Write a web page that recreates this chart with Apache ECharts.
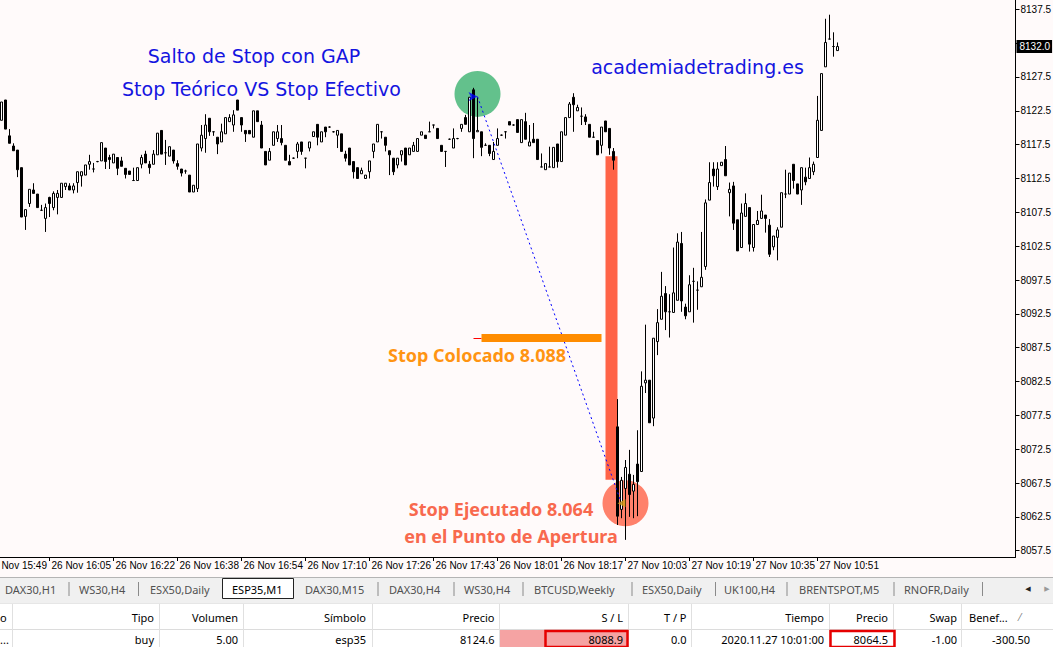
<!DOCTYPE html>
<html>
<head>
<meta charset="utf-8">
<script src="https://cdn.jsdelivr.net/npm/echarts@6.0.0/dist/echarts.min.js"></script>
<style>
html,body{margin:0;padding:0;background:#fffafa;overflow:hidden}
#chart{width:1053px;height:647px}
</style>
</head>
<body>
<div id="chart"></div>
<script>
// ESP35 M1 candles: [open, close, low, high]
const ohlc = [
[8121.1,8123.8,8121.1,8123.8],[8124.1,8119.8,8119.8,8124.1],[8118.8,8117.7,8117.7,8119.8],[8117.3,8116.6,8116.6,8117.7],
[8116.7,8113.8,8112.7,8116.7],[8114.1,8106.8,8106.8,8114.1],[8106.9,8107.9,8104.9,8107.9],[8108.8,8110.9,8108.3,8110.9],
[8110.8,8110.3,8110.3,8111.8],[8110.2,8108.2,8108.2,8110.2],[8107.8,8107.8,8107.7,8108.6],[8106.6,8108.2,8104.6,8108.8],
[8109.7,8108.8,8106.8,8109.8],[8108.2,8110.3,8107.8,8110.6],[8109.7,8110.3,8107.2,8110.8],[8109.7,8111.8,8109.7,8111.8],
[8111.3,8111.8,8110.8,8111.8],[8111.4,8110.8,8110.8,8111.8],[8110.8,8111.4,8110.3,8111.8],[8111.9,8113.5,8110.4,8113.5],
[8112.9,8113.5,8111.3,8113.5],[8113.0,8114.5,8113.0,8114.5],[8114.6,8115.0,8113.8,8116.0],[8113.9,8113.9,8113.4,8114.8],
[8115.0,8115.0,8114.9,8115.1],[8115.1,8117.8,8115.1,8117.8],[8117.0,8115.0,8113.9,8117.0],[8115.6,8115.3,8113.9,8116.0],
[8114.8,8116.1,8114.8,8116.1],[8115.6,8114.0,8113.0,8115.6],[8115.1,8114.3,8114.3,8115.7],[8114.0,8113.1,8112.5,8114.0],
[8113.6,8113.1,8113.1,8113.6],[8112.2,8112.2,8112.2,8114.1],[8112.2,8114.1,8112.2,8114.1],[8114.6,8115.6,8114.0,8116.0],
[8116.1,8114.8,8114.8,8116.6],[8114.6,8114.1,8113.2,8115.1],[8114.6,8116.1,8114.6,8116.7],[8116.0,8119.2,8116.0,8119.2],
[8119.6,8116.1,8116.1,8119.6],[8116.3,8116.3,8114.5,8118.2],[8115.8,8117.2,8115.8,8117.2],[8116.7,8115.1,8114.7,8116.7],
[8114.7,8114.3,8113.8,8115.2],[8113.9,8113.3,8112.8,8113.9],[8113.6,8113.6,8113.2,8113.8],[8113.0,8110.5,8110.5,8113.0],
[8110.5,8111.5,8110.5,8111.5],[8111.0,8117.6,8110.5,8117.6],[8117.0,8118.9,8116.5,8120.4],[8118.4,8120.4,8116.3,8122.0],
[8121.4,8119.4,8118.8,8121.4],[8119.4,8119.4,8118.8,8119.4],[8118.6,8117.6,8116.1,8118.6],[8117.9,8119.4,8117.9,8120.6],
[8119.1,8121.5,8119.1,8121.5],[8120.9,8121.5,8120.9,8122.0],[8120.4,8121.9,8119.4,8122.6],[8124.1,8122.6,8122.6,8124.1],
[8121.5,8120.4,8119.4,8121.5],[8119.6,8119.1,8117.9,8119.6],[8119.6,8119.1,8119.1,8119.6],[8118.6,8122.5,8118.6,8122.5],
[8122.5,8120.9,8120.9,8122.5],[8120.4,8117.0,8117.0,8121.0],[8116.5,8114.5,8114.5,8116.5],[8115.2,8116.5,8115.2,8117.0],
[8117.4,8119.4,8117.4,8119.4],[8118.4,8119.4,8117.9,8120.4],[8118.4,8117.8,8117.4,8120.4],[8117.4,8115.2,8115.2,8117.4],
[8115.0,8114.5,8114.5,8116.0],[8115.5,8115.5,8115.4,8115.6],[8116.5,8117.6,8115.5,8117.9],[8117.9,8116.5,8116.0,8117.9],
[8115.5,8115.5,8114.0,8115.5],[8117.0,8117.9,8116.5,8117.9],[8118.7,8119.4,8118.7,8119.4],[8120.5,8118.6,8117.4,8120.5],
[8117.9,8119.4,8117.9,8119.4],[8120.1,8119.4,8118.6,8120.1],[8120.1,8120.1,8120.0,8120.2],[8119.4,8119.4,8119.3,8119.5],
[8118.9,8119.6,8117.0,8119.6],[8119.1,8116.5,8116.5,8119.1],[8116.1,8115.5,8115.0,8116.6],[8117.0,8114.5,8114.5,8117.0],
[8115.0,8113.5,8112.5,8115.0],[8114.1,8112.5,8112.5,8114.1],[8113.2,8113.7,8113.2,8114.1],[8112.5,8113.0,8112.5,8113.0],
[8113.5,8115.1,8112.5,8115.1],[8116.5,8117.6,8115.5,8117.6],[8117.9,8120.5,8117.9,8120.5],[8119.4,8119.4,8118.4,8119.4],
[8118.6,8117.4,8116.5,8118.6],[8116.6,8116.0,8113.0,8116.6],[8115.5,8113.5,8113.0,8115.5],[8114.5,8115.5,8114.0,8115.5],
[8116.0,8116.6,8115.0,8116.6],[8117.0,8114.5,8114.5,8117.0],[8116.0,8117.0,8116.0,8117.0],[8116.5,8117.4,8116.5,8117.9],
[8116.5,8118.4,8116.5,8118.4],[8118.9,8119.4,8118.9,8119.4],[8118.9,8118.4,8118.4,8118.9],[8119.4,8119.4,8119.4,8120.9],
[8120.4,8120.4,8119.9,8120.4],[8119.9,8118.4,8118.4,8119.9],[8117.4,8116.5,8116.5,8117.4],[8116.5,8116.5,8114.2,8116.5],
[8118.3,8118.3,8118.2,8118.4],[8117.0,8118.4,8117.0,8119.9],[8118.4,8118.4,8118.3,8118.5],[8119.9,8120.5,8119.4,8120.5],
[8121.5,8120.5,8120.5,8121.9],[8119.4,8124.5,8119.4,8124.5],[8125.6,8118.4,8115.5,8125.9],[8119.4,8119.6,8119.4,8124.5],
[8119.4,8117.1,8115.8,8119.4],[8117.4,8117.4,8117.4,8117.7],[8117.4,8116.2,8115.8,8117.4],[8115.3,8116.5,8115.3,8117.9],
[8117.4,8118.4,8117.4,8119.9],[8118.9,8118.9,8118.8,8119.0],[8119.4,8119.4,8118.4,8119.4],[8120.9,8120.4,8120.4,8120.9],
[8120.4,8120.4,8120.3,8120.5],[8121.2,8119.3,8119.3,8121.2],[8117.8,8121.2,8117.8,8121.2],[8120.9,8118.3,8118.3,8122.2],
[8117.3,8117.9,8117.3,8120.4],[8118.3,8117.8,8117.8,8120.7],[8118.3,8115.3,8115.3,8118.3],[8114.2,8114.2,8114.2,8116.2],
[8113.8,8114.7,8113.8,8114.7],[8114.2,8114.2,8114.2,8117.2],[8114.1,8117.1,8114.1,8117.1],[8117.6,8115.0,8114.1,8117.6],
[8115.0,8119.4,8115.0,8119.4],[8118.9,8121.5,8118.9,8121.5],[8121.5,8123.5,8121.5,8123.8],[8124.5,8123.4,8119.4,8125.1],
[8122.5,8123.0,8122.5,8123.4],[8121.7,8121.7,8120.4,8123.0],[8121.6,8120.9,8120.4,8122.0],[8120.5,8118.6,8118.6,8120.5],
[8118.6,8118.6,8118.6,8119.4],[8118.1,8116.0,8116.0,8118.1],[8117.4,8120.1,8116.2,8120.1],[8121.0,8119.4,8119.4,8121.0],
[8119.9,8117.0,8116.0,8119.9],[8116.5,8115.2,8113.8,8117.0],
[8075.8,8062.6,8061.3,8079.9],[8063.6,8067.9,8062.3,8068.4],[8066.7,8069.8,8059.1,8070.9],[8068.8,8065.8,8062.5,8072.4],
[8066.3,8067.3,8062.3,8068.7],[8070.3,8067.7,8062.6,8075.3],[8069.2,8081.8,8069.2,8084.0],[8082.3,8082.7,8080.8,8090.9],
[8082.7,8076.4,8076.4,8082.7],[8077.1,8088.9,8075.9,8088.9],[8088.4,8091.2,8086.4,8093.2],[8091.7,8095.1,8091.7,8098.7],
[8095.5,8092.8,8090.1,8096.6],[8092.8,8092.8,8089.0,8095.4],[8092.7,8095.6,8092.7,8102.3],[8094.5,8103.1,8094.5,8104.4],
[8102.9,8094.4,8092.8,8104.6],[8093.5,8092.2,8091.7,8094.0],[8092.8,8096.8,8092.8,8098.2],[8097.3,8097.3,8091.2,8099.3],
[8096.0,8096.0,8093.1,8097.3],[8096.5,8097.9,8096.5,8104.6],[8099.5,8108.9,8099.0,8109.4],[8109.3,8111.9,8109.3,8114.9],
[8113.9,8112.9,8111.3,8114.9],[8111.3,8113.9,8110.8,8114.9],[8114.4,8114.9,8114.4,8114.9],[8115.3,8112.9,8112.9,8117.3],
[8110.4,8110.9,8106.9,8111.9],[8111.4,8105.9,8104.9,8112.0],[8106.4,8101.8,8101.8,8106.4],[8102.3,8107.4,8102.3,8108.8],
[8106.9,8108.8,8106.9,8110.3],[8108.2,8102.8,8101.7,8108.2],[8102.3,8105.7,8101.7,8105.7],[8105.7,8106.3,8105.7,8107.7],
[8106.6,8107.7,8106.6,8110.1],[8107.1,8106.6,8104.5,8107.1],[8105.6,8101.3,8100.9,8106.5],[8102.4,8104.0,8101.9,8104.0],
[8103.8,8104.9,8100.4,8105.3],[8105.3,8110.4,8105.3,8110.4],[8110.2,8110.2,8109.6,8113.8],[8110.2,8113.3,8110.2,8113.3],
[8114.6,8112.2,8111.0,8114.6],[8111.7,8110.2,8110.2,8111.7],[8110.8,8114.1,8108.6,8114.1],[8112.7,8112.0,8111.5,8114.1],
[8112.5,8114.1,8112.5,8115.6],[8113.5,8114.6,8113.0,8115.0],[8115.6,8121.1,8115.6,8124.7],[8119.6,8128.0,8119.6,8128.0],
[8129.0,8132.6,8129.0,8136.1],[8133.1,8133.1,8133.1,8136.7],[8132.0,8132.0,8130.5,8134.1],[8131.4,8132.0,8131.4,8132.6]
];

const timeLabels = ['26 Nov 15:49','26 Nov 16:05','26 Nov 16:22','26 Nov 16:38','26 Nov 16:54','26 Nov 17:10','26 Nov 17:26',
  '26 Nov 17:43','26 Nov 18:01','26 Nov 18:17','27 Nov 10:03','27 Nov 10:19','27 Nov 10:35','27 Nov 10:51'];
const priceMin = 8057.5, priceMax = 8137.5, priceStep = 5;

// trade annotations (bar index, price)
const entry = [119, 8124.6];
const exitPt = [155, 8064.5];
const stopPlaced = 8088.9;
const stopSpan = [120, 150];
const stopTick = [118, 120];
const gapBars = [151, 154];
const gapPrices = [8115.8, 8068.0];
const circleGreen = [119, 8125.0];
const circleRed = [156, 8064.5];

const tabNames = ['DAX30,H1','WS30,H4','ESX50,Daily','ESP35,M1','DAX30,M15','DAX30,H4','WS30,H4','BTCUSD,Weekly','ESX50,Daily','UK100,H4','BRENTSPOT,M5','RNOFR,Daily'];
const headerNames = ['o','Tipo','Volumen','Símbolo','Precio','S / L','T / P','Tiempo','Precio','Swap','Benef...'];
const rowValues = ['...','buy','5.00','esp35','8124.6','8088.9','0.0','2020.11.27 10:01:00','8064.5','-1.00','-300.50'];

// ---------- layout / style ----------
const LEAD = 4, SLOTS = 258, STEP = 16;
const X = i => i + LEAD;
const cats = Array.from({length: SLOTS}, (_, k) => String(k));
const candleData = ohlc.map((d, i) => [X(i), d[0], d[1], d[2], d[3]]);
const lastClose = ohlc[ohlc.length - 1][1];

const AX = '"Liberation Sans", Arial, sans-serif';
const UI = '"Noto Sans", sans-serif';
const BLUE = '#1414e0';

const tabX = [5, 79, 150, 232, 305, 389, 464, 534, 642, 724, 799, 904];
const tabSeps = [69, 138.5, 378, 454, 523, 632, 715.5, 787, 894, 982.5];
const colSeps = [12.5, 159.5, 243.5, 372.5, 499.5, 628.5, 691.5, 829.5, 893.5, 961.5];
const colRight = [null, 154, 238, 366, 494.5, 623, 686.5, 824, 888, 957, null];

const g = [];
g.push({type:'line', shape:{x1:1015.5, y1:0, x2:1015.5, y2:557.5}, style:{stroke:'#000', lineWidth:1}, z:5});
g.push({type:'text', x:254, y:56, style:{text:'Salto de Stop con GAP', fill:BLUE, font:'19px "DejaVu Sans"', align:'center', verticalAlign:'middle'}, z:20});
g.push({type:'text', x:261.5, y:89, style:{text:'Stop Teórico VS Stop Efectivo', fill:BLUE, font:'19px "DejaVu Sans"', align:'center', verticalAlign:'middle'}, z:20});
g.push({type:'text', x:697.5, y:67, style:{text:'academiadetrading.es', fill:BLUE, font:'19px "DejaVu Sans"', align:'center', verticalAlign:'middle'}, z:20});
g.push({type:'text', x:477, y:355, style:{text:'Stop Colocado 8.088', fill:'#ff9412', font:'bold 18px "Noto Sans"', align:'center', verticalAlign:'middle'}, z:20});
g.push({type:'text', x:501, y:509, style:{text:'Stop Ejecutado 8.064', fill:'#f8694e', font:'bold 18px "Noto Sans"', align:'center', verticalAlign:'middle'}, z:20});
g.push({type:'text', x:511, y:536, style:{text:'en el Punto de Apertura', fill:'#f8694e', font:'bold 18px "Noto Sans"', align:'center', verticalAlign:'middle'}, z:20});

// bottom terminal panel
g.push({type:'rect', shape:{x:0, y:577, width:1053, height:70}, style:{fill:'#f0f0f0'}, z:30});
g.push({type:'line', shape:{x1:0, y1:577.5, x2:1053, y2:577.5}, style:{stroke:'#b4b4b4', lineWidth:1}, z:31});
g.push({type:'rect', shape:{x:222.5, y:578.5, width:71, height:20}, style:{fill:'#ffffff', stroke:'#222', lineWidth:1}, z:31});
tabNames.forEach((t, i) => {
  g.push({type:'text', x:tabX[i], y:589, style:{text:t, fill: i === 3 ? '#000' : '#505050', font:'11px ' + UI, align:'left', verticalAlign:'middle'}, z:32});
});
tabSeps.forEach(x => g.push({type:'line', shape:{x1:x, y1:582, x2:x, y2:596}, style:{stroke:'#8a8a8a', lineWidth:1}, z:31}));
g.push({type:'text', x:1028, y:589, style:{text:'◀', fill:'#222', font:'7px "DejaVu Sans"', align:'center', verticalAlign:'middle'}, z:32});
g.push({type:'text', x:1047, y:589, style:{text:'▶', fill:'#999', font:'7px "DejaVu Sans"', align:'center', verticalAlign:'middle'}, z:32});
g.push({type:'rect', shape:{x:0, y:603, width:1053, height:44}, style:{fill:'#ffffff'}, z:31});
g.push({type:'line', shape:{x1:0, y1:629.5, x2:1053, y2:629.5}, style:{stroke:'#dcdcdc', lineWidth:1}, z:32});
g.push({type:'line', shape:{x1:0, y1:603.5, x2:1053, y2:603.5}, style:{stroke:'#e6e6e6', lineWidth:1}, z:32});
colSeps.forEach(x => g.push({type:'line', shape:{x1:x, y1:604, x2:x, y2:647}, style:{stroke:'#e0e0e0', lineWidth:1}, z:32}));
g.push({type:'rect', shape:{x:500, y:630, width:128, height:17}, style:{fill:'#f5a3a3'}, z:33});
g.push({type:'rect', shape:{x:545.5, y:631, width:82, height:16}, style:{fill:'none', stroke:'#e60000', lineWidth:2.5}, z:35});
g.push({type:'rect', shape:{x:830.5, y:631, width:64, height:16}, style:{fill:'none', stroke:'#e60000', lineWidth:2.5}, z:35});
headerNames.forEach((h, i) => {
  const r = colRight[i];
  const x = r === null ? (i === 0 ? 0 : 969) : r;
  g.push({type:'text', x:x, y:617, style:{text:h, fill:'#000', font:'11px ' + UI, align: r === null ? 'left' : 'right', verticalAlign:'middle'}, z:34});
});
g.push({type:'text', x:1020, y:617, style:{text:'⁄', fill:'#777', font:'10px ' + UI, align:'center', verticalAlign:'middle'}, z:34});
rowValues.forEach((v, i) => {
  const r = colRight[i];
  const x = r === null ? (i === 0 ? 0 : 1030) : r;
  g.push({type:'text', x:x, y:639.5, style:{text:v, fill:'#000', font:'11px ' + UI, align: i === 0 ? 'left' : 'right', verticalAlign:'middle'}, z:34});
});

const chart = echarts.init(document.getElementById('chart'), null, {renderer:'svg'});
chart.setOption({
  animation: false,
  backgroundColor: '#fffafa',
  grid: {left:-16.5, right:37.5, top:9.3, bottom:96.3, containLabel:false, outerBoundsMode:'none'},
  xAxis: {
    type:'category', data:cats, boundaryGap:true, position:'bottom', offset:6.3,
    axisLine:{show:true, lineStyle:{color:'#000', width:1}},
    axisTick:{show:true, alignWithLabel:true, length:4, lineStyle:{color:'#000'},
      interval:(idx) => idx % STEP === 0 && idx / STEP < timeLabels.length},
    axisLabel:{show:true, interval:0, align:'left', margin:3, color:'#000', fontSize:10, fontFamily:AX,
      padding:[0,0,0,2],
      formatter:(v, idx) => (idx % STEP === 0 ? (timeLabels[idx / STEP] || '') : '')},
    splitLine:{show:false}
  },
  yAxis: {
    type:'value', position:'right', min:priceMin, max:priceMax, interval:priceStep, scale:true,
    axisLine:{show:true, lineStyle:{color:'#000'}},
    axisTick:{show:true, length:4, lineStyle:{color:'#000'}},
    axisLabel:{color:'#000', fontSize:10, fontFamily:AX, margin:5,
      formatter:v => (Math.abs(v - lastClose) < 2 ? '' : v.toFixed(1))},
    splitLine:{show:false}
  },
  series: [
    {
      type:'scatter', silent:true, z:1, symbolSize:46,
      data:[
        {value:[X(circleGreen[0]), circleGreen[1]], itemStyle:{color:'#3cb371'}},
        {value:[X(circleRed[0]), circleRed[1]], itemStyle:{color:'#ff6347'}}
      ],
      markArea:{silent:true, itemStyle:{color:'#ff6347', opacity:1},
        data:[[{coord:[X(gapBars[0]), gapPrices[0]]}, {coord:[X(gapBars[1]), gapPrices[1]]}]]},
      markLine:{silent:true, symbol:'none', label:{show:false},
        data:[
          [{coord:[X(stopTick[0]), stopPlaced], lineStyle:{color:'#ff0000', width:1, type:'solid'}}, {coord:[X(stopTick[1]), stopPlaced]}],
          [{coord:[X(stopSpan[0]), stopPlaced], lineStyle:{color:'#ff8c00', width:8, type:'solid'}}, {coord:[X(stopSpan[1]), stopPlaced]}]
        ]}
    },
    {
      type:'candlestick', name:'ESP35,M1', silent:true, z:3, barWidth:2,
      data:candleData, encode:{x:0, y:[1,2,3,4]},
      itemStyle:{color:'#ffffff', color0:'#000000', borderColor:'#000000', borderColor0:'#000000', borderWidth:1},
      markLine:{silent:true, symbol:'none', lineStyle:{color:'rgba(0,0,0,0)', width:0},
        data:[{yAxis:lastClose}],
        label:{show:true, position:'end', distance:1, formatter:lastClose.toFixed(1), color:'#fff',
          backgroundColor:'#000', padding:[2,2,1,3], fontSize:10, fontFamily:AX, opacity:1}}
    },
    {
      type:'line', silent:true, z:4, symbol:'none',
      data:[[X(entry[0]), entry[1]], [X(exitPt[0]), exitPt[1]]],
      lineStyle:{color:'#0000ff', width:1, type:[2,3]}
    },
    {
      type:'scatter', silent:true, z:5,
      data:[
        {value:[X(entry[0]), entry[1]], symbol:'arrow', symbolRotate:-90, symbolSize:[7,9], itemStyle:{color:'#0000ff'}},
        {value:[X(exitPt[0]), exitPt[1]], symbol:'triangle', symbolRotate:90, symbolSize:[8,8], itemStyle:{color:'#d4a017'}}
      ]
    }
  ],
  graphic: {elements: g}
});
</script>
</body>
</html>
